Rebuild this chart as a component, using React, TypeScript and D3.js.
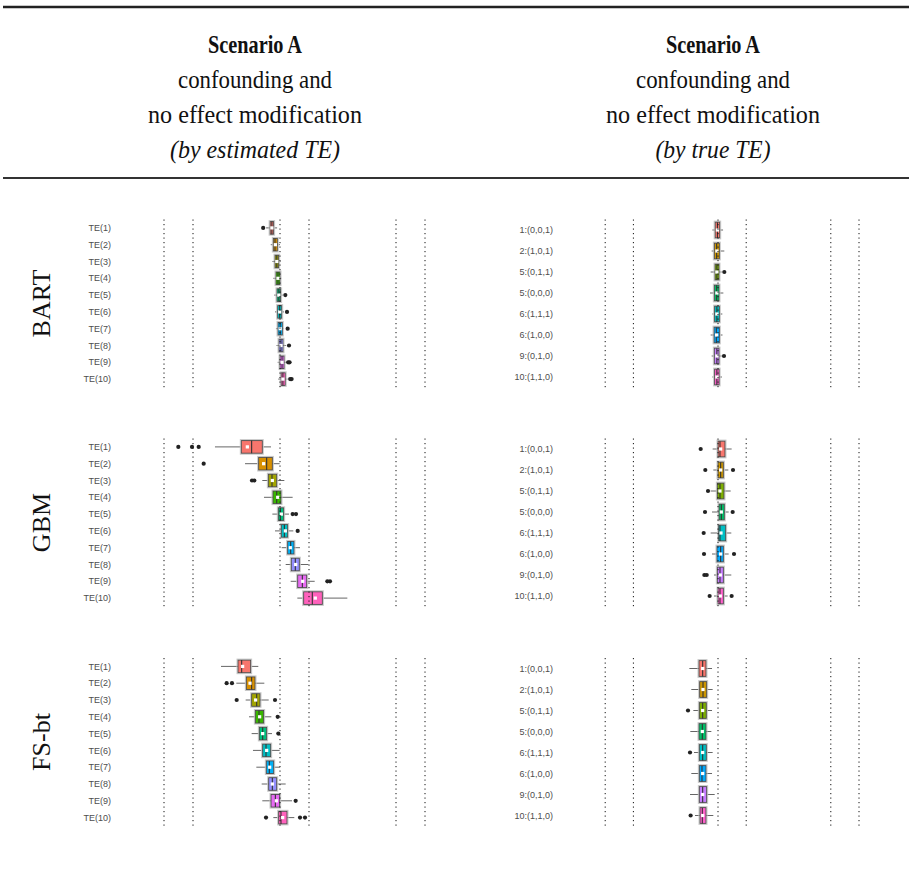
import React from "react";
import * as d3 from "d3";

// ---------- data ----------
const methods = ["BART", "GBM", "FS-bt"];
const estLabels = ["TE(1)", "TE(2)", "TE(3)", "TE(4)", "TE(5)", "TE(6)", "TE(7)", "TE(8)", "TE(9)", "TE(10)"];
const trueLabels = ["1:(0,0,1)", "2:(1,0,1)", "5:(0,1,1)", "5:(0,0,0)", "6:(1,1,1)", "6:(1,0,0)", "9:(0,1,0)", "10:(1,1,0)"];
const refLines = [-2, -1.5, 0, 0.5, 2, 2.5];
const hue10 = ["#F8766D", "#D89000", "#A3A500", "#39B600", "#00BF7D", "#00BFC4", "#00B0F6", "#9590FF", "#E76BF3", "#FF62BC"];
const hue8 = ["#F8766D", "#CD9600", "#7CAE00", "#00BE67", "#00BFC4", "#00A9FF", "#C77CFF", "#FF61CC"];

// [lowWhisker, q1, median, q3, highWhisker, mean]
const bartEst = [
  [-0.24, -0.17, -0.14, -0.11, -0.05, -0.14],
  [-0.16, -0.115, -0.086, -0.046, 0.0, -0.08],
  [-0.13, -0.086, -0.055, -0.023, 0.01, -0.055],
  [-0.115, -0.069, -0.035, 0.0, 0.023, -0.035],
  [-0.1, -0.052, -0.02, 0.011, 0.046, -0.02],
  [-0.086, -0.04, -0.005, 0.029, 0.07, -0.005],
  [-0.07, -0.034, 0.003, 0.04, 0.07, 0.003],
  [-0.06, -0.017, 0.017, 0.052, 0.1, 0.017],
  [-0.04, 0.0, 0.035, 0.07, 0.11, 0.035],
  [-0.03, 0.02, 0.05, 0.09, 0.13, 0.05],
];
const bartEstOut = [[-0.29], [], [], [], [0.092], [0.121], [0.132], [0.155], [0.14, 0.165], [0.175, 0.2]];

const bartTrue = [
  [-0.1, -0.05, -0.01, 0.03, 0.09, -0.01],
  [-0.112, -0.065, -0.024, 0.024, 0.112, -0.02],
  [-0.13, -0.053, -0.02, 0.018, 0.065, -0.02],
  [-0.142, -0.065, -0.024, 0.018, 0.095, -0.02],
  [-0.1, -0.06, -0.02, 0.024, 0.077, -0.02],
  [-0.13, -0.07, -0.03, 0.024, 0.08, -0.025],
  [-0.112, -0.065, -0.02, 0.018, 0.065, -0.02],
  [-0.1, -0.06, -0.02, 0.02, 0.07, -0.02],
];
const bartTrueOut = [[], [], [0.112], [], [], [], [0.106], []];

const gbmEst = [
  [-1.121, -0.667, -0.489, -0.305, -0.155, -0.563],
  [-0.603, -0.368, -0.23, -0.132, -0.006, -0.282],
  [-0.305, -0.201, -0.138, -0.057, 0.075, -0.132],
  [-0.276, -0.121, -0.057, 0.017, 0.218, -0.04],
  [-0.132, -0.029, 0.006, 0.063, 0.155, 0.023],
  [-0.086, 0.023, 0.075, 0.132, 0.23, 0.092],
  [0.029, 0.132, 0.184, 0.241, 0.345, 0.178],
  [0.098, 0.195, 0.264, 0.333, 0.489, 0.27],
  [0.184, 0.305, 0.385, 0.46, 0.598, 0.391],
  [0.299, 0.408, 0.557, 0.73, 1.161, 0.609],
];
const gbmEstOut = [[-1.753, -1.517, -1.402], [-1.316], [-0.483, -0.443], [], [0.218, 0.276], [0.305], [], [], [0.816, 0.862], []];

const gbmTrue = [
  [-0.095, 0, 0.035, 0.124, 0.242, 0.047],
  [-0.083, 0, 0.047, 0.095, 0.183, 0.047],
  [-0.13, -0.012, 0.035, 0.106, 0.225, 0.035],
  [-0.106, 0.018, 0.059, 0.112, 0.189, 0.059],
  [-0.13, 0.012, 0.035, 0.136, 0.236, 0.053],
  [-0.106, -0.018, 0.047, 0.095, 0.189, 0.047],
  [-0.071, -0.012, 0.035, 0.095, 0.236, 0.041],
  [-0.071, 0, 0.035, 0.095, 0.171, 0.041],
];
const gbmTrueOut = [[-0.307], [-0.225, 0.266], [-0.177], [-0.23, 0.26], [-0.254], [-0.248, 0.284], [-0.242, -0.2], [-0.148, 0.242]];

const fsEst = [
  [-1.017, -0.724, -0.661, -0.506, -0.374, -0.644],
  [-0.753, -0.58, -0.489, -0.431, -0.27, -0.517],
  [-0.592, -0.489, -0.402, -0.345, -0.195, -0.42],
  [-0.534, -0.425, -0.362, -0.282, -0.149, -0.351],
  [-0.489, -0.356, -0.299, -0.23, -0.138, -0.299],
  [-0.466, -0.299, -0.241, -0.161, -0.006, -0.23],
  [-0.408, -0.236, -0.184, -0.109, 0, -0.178],
  [-0.316, -0.195, -0.132, -0.057, 0.098, -0.132],
  [-0.305, -0.155, -0.08, -0.006, 0.207, -0.063],
  [-0.115, -0.023, 0.017, 0.121, 0.247, 0.046],
];
const fsEstOut = [[], [-0.92, -0.828], [-0.747, -0.086], [-0.04], [-0.029], [], [], [], [0.27], [-0.241, 0.345, 0.431]];

const fsTrue = [
  [-0.508, -0.337, -0.272, -0.213, -0.106, -0.272],
  [-0.473, -0.325, -0.266, -0.201, -0.095, -0.266],
  [-0.437, -0.331, -0.272, -0.207, -0.106, -0.272],
  [-0.491, -0.337, -0.278, -0.213, -0.118, -0.278],
  [-0.426, -0.331, -0.272, -0.207, -0.095, -0.272],
  [-0.473, -0.331, -0.284, -0.213, -0.106, -0.272],
  [-0.496, -0.331, -0.272, -0.201, -0.059, -0.272],
  [-0.408, -0.319, -0.278, -0.213, -0.083, -0.272],
];
const fsTrueOut = [[], [], [-0.532], [], [-0.496], [], [], [-0.485]];

const estStats = [bartEst, gbmEst, fsEst];
const estOuts = [bartEstOut, gbmEstOut, fsEstOut];
const trueStats = [bartTrue, gbmTrue, fsTrue];
const trueOuts = [bartTrueOut, gbmTrueOut, fsTrueOut];

// ---------- layout ----------
const W = 909;
const H = 875;
const panelTops = [219.5, 438.5, 658];
const panelH = 168;
const serif = "'Liberation Serif', 'Times New Roman', serif";
const sans = "'Liberation Sans', Arial, sans-serif";

type PanelProps = {
  stats: number[][];
  outs: number[][];
  labels: string[];
  colors: string[];
  top: number;
  x0: number;
  x1: number;
  labelX: number;
};

function Panel({ stats, outs, labels, colors, top, x0, x1, labelX }: PanelProps) {
  const x = d3.scaleLinear().domain([-2, 2.5]).range([x0, x1]);
  const y = d3.scaleBand<string>().domain(labels).range([top, top + panelH]).padding(0);
  const bh = y.bandwidth() * 0.75;
  return (
    <g>
      {labels.map((l) => (
        <text key={l} x={labelX} y={(y(l) as number) + y.bandwidth() / 2} dy="0.35em" textAnchor="end"
          fontFamily={sans} fontSize={9} fill="#4d4d4d">{l}</text>
      ))}
      {stats.map((s, i) => {
        const cy = (y(labels[i]) as number) + y.bandwidth() / 2;
        const [lo, q1, med, q3, hi, mean] = s;
        return (
          <g key={i}>
            <line x1={x(lo)} x2={x(q1)} y1={cy} y2={cy} stroke="#666" strokeWidth={1} />
            <line x1={x(q3)} x2={x(hi)} y1={cy} y2={cy} stroke="#666" strokeWidth={1} />
            <rect x={x(q1) - 1} y={cy - bh / 2 - 1} width={x(q3) - x(q1) + 2} height={bh + 2}
              fill="none" stroke="#c8c8c8" strokeWidth={1} />
            <rect x={x(q1)} y={cy - bh / 2} width={x(q3) - x(q1)} height={bh}
              fill={colors[i]} stroke="#4a4a4a" strokeWidth={0.9} />
            <line x1={x(med)} x2={x(med)} y1={cy - bh / 2} y2={cy + bh / 2} stroke="#333" strokeWidth={1.1} />
            <rect x={x(mean) - 1.6} y={cy - 1.6} width={3.2} height={3.2} fill="#fff" />
            {outs[i].map((o, j) => (
              <circle key={j} cx={x(o)} cy={cy} r={2.1} fill="#222" />
            ))}
          </g>
        );
      })}
      {refLines.map((r, k) => (
        <line key={k} x1={x(r)} x2={x(r)} y1={top} y2={top + panelH} stroke="#111"
          strokeWidth={1} strokeDasharray="1.2,3.3" />
      ))}
    </g>
  );
}

export default function App() {
  const headerLines = [
    { t: "Scenario A", bold: true, y: 53 },
    { t: "confounding and", bold: false, y: 88 },
    { t: "no effect modification", bold: false, y: 123 },
  ];
  const cols = [
    { cx: 255, last: "(by estimated TE)" },
    { cx: 713, last: "(by true TE)" },
  ];
  const widths: Record<string, number> = {
    "Scenario A": 94,
    "confounding and": 154,
    "no effect modification": 214,
    "(by estimated TE)": 170,
    "(by true TE)": 115,
  };
  return (
    <svg width={W} height={H} style={{ position: "absolute", left: 0, top: 0, background: "#fff" }}>
      <rect x={0} y={0} width={W} height={H} fill="#fff" />
      <line x1={3} x2={W} y1={7} y2={7} stroke="#222" strokeWidth={2.5} />
      <line x1={3} x2={W} y1={178} y2={178} stroke="#333" strokeWidth={2} />
      {cols.map((c, ci) => (
        <g key={ci}>
          {headerLines.map((h, hi) => (
            <text key={hi} x={c.cx} y={h.y} textAnchor="middle" fontFamily={serif} fontSize={26}
              fontWeight={h.bold ? "bold" : "normal"} textLength={widths[h.t]} lengthAdjust="spacingAndGlyphs"
              fill="#111">{h.t}</text>
          ))}
          <text x={c.cx} y={158} textAnchor="middle" fontFamily={serif} fontSize={26} fontStyle="italic"
            textLength={widths[c.last]} lengthAdjust="spacingAndGlyphs" fill="#111">{c.last}</text>
        </g>
      ))}
      {methods.map((m, mi) => (
        <g key={m}>
          <text transform={`translate(50,${panelTops[mi] + panelH / 2}) rotate(-90)`} textAnchor="middle"
            fontFamily={serif} fontSize={26} fill="#111">{m}</text>
          <Panel stats={estStats[mi]} outs={estOuts[mi]} labels={estLabels} colors={hue10}
            top={panelTops[mi]} x0={164} x1={425} labelX={111} />
          <Panel stats={trueStats[mi]} outs={trueOuts[mi]} labels={trueLabels} colors={hue8}
            top={panelTops[mi]} x0={605.2} x1={859} labelX={553} />
        </g>
      ))}
    </svg>
  );
}
